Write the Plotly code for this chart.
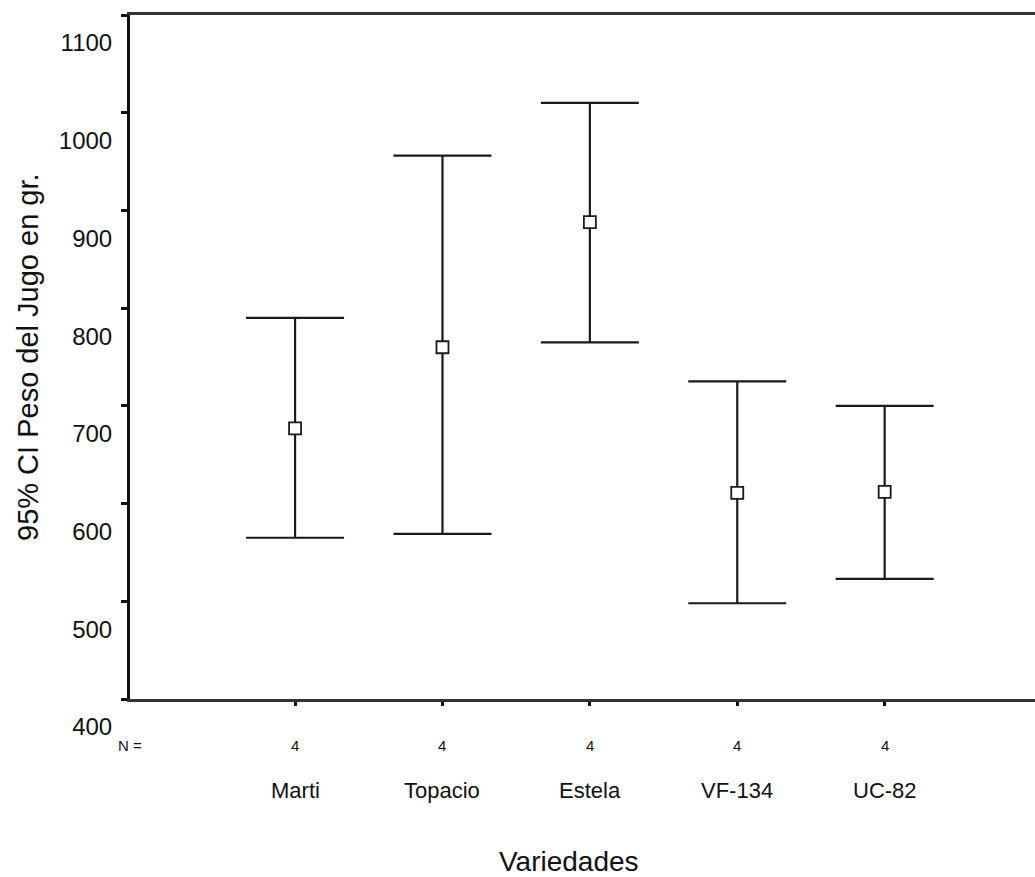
import plotly.graph_objects as go

categories = ["Marti", "Topacio", "Estela", "VF-134", "UC-82"]
n_values = [4, 4, 4, 4, 4]
means = [677, 760, 888, 611, 612]
upper = [790, 956, 1010, 725, 700]
lower = [565, 569, 765, 498, 523]
y_ticks = [400, 500, 600, 700, 800, 900, 1000, 1100]

FONT = "Liberation Sans, Arial, sans-serif"
xs = list(range(len(categories)))

fig = go.Figure()
fig.add_trace(go.Scatter(
    x=xs, y=means, mode="markers",
    marker=dict(symbol="square", size=12, color="white",
                line=dict(color="#1a1a1a", width=1.8)),
    error_y=dict(type="data", symmetric=False,
                 array=[u - m for u, m in zip(upper, means)],
                 arrayminus=[m - l for m, l in zip(means, lower)],
                 color="#1a1a1a", thickness=2.2, width=49),
    showlegend=False, cliponaxis=False,
))

annotations = []
annotations.append(dict(text="N =", xref="paper", yref="paper", x=0, y=0,
                        yshift=-46, showarrow=False, xanchor="center", yanchor="middle",
                        font=dict(family=FONT, size=15, color="#111")))
for i, (c, n) in enumerate(zip(categories, n_values)):
    annotations.append(dict(text=str(n), xref="x", yref="paper", x=i, y=0, yshift=-46,
                            showarrow=False, xanchor="center", yanchor="middle",
                            font=dict(family=FONT, size=15, color="#111")))
    annotations.append(dict(text=c, xref="x", yref="paper", x=i, y=0, yshift=-91,
                            showarrow=False, xanchor="center", yanchor="middle",
                            font=dict(family=FONT, size=22, color="#111")))
annotations.append(dict(text="Variedades", xref="paper", yref="paper", x=0.485, y=0,
                        yshift=-162, showarrow=False, xanchor="center", yanchor="middle",
                        font=dict(family=FONT, size=28, color="#111")))
annotations.append(dict(text="95% CI Peso del Jugo en gr.", xref="paper", yref="paper",
                        x=0, xshift=-102, y=0.5, textangle=-90, showarrow=False,
                        xanchor="center", yanchor="middle",
                        font=dict(family=FONT, size=29, color="#111")))

fig.update_layout(
    width=1035, height=877,
    margin=dict(l=130, r=0, t=15, b=178),
    paper_bgcolor="white", plot_bgcolor="white",
    annotations=annotations,
    xaxis=dict(range=[-1.12, 5.02], tickvals=xs, ticktext=[""] * len(xs),
               ticks="outside", ticklen=4, tickwidth=3, tickcolor="#111",
               showline=True, linecolor="#333", linewidth=3, mirror=True,
               showgrid=False, zeroline=False),
    yaxis=dict(range=[400, 1100], tickvals=y_ticks, ticktext=[str(v) for v in y_ticks],
               ticks="outside", ticklen=6, tickwidth=3, tickcolor="#111",
               ticklabelshift=28, ticklabelstandoff=4,
               tickfont=dict(family=FONT, size=24, color="#111"),
               showline=True, linecolor="#111", linewidth=3,
               showgrid=False, zeroline=False),
)

fig.write_html("out.html")
